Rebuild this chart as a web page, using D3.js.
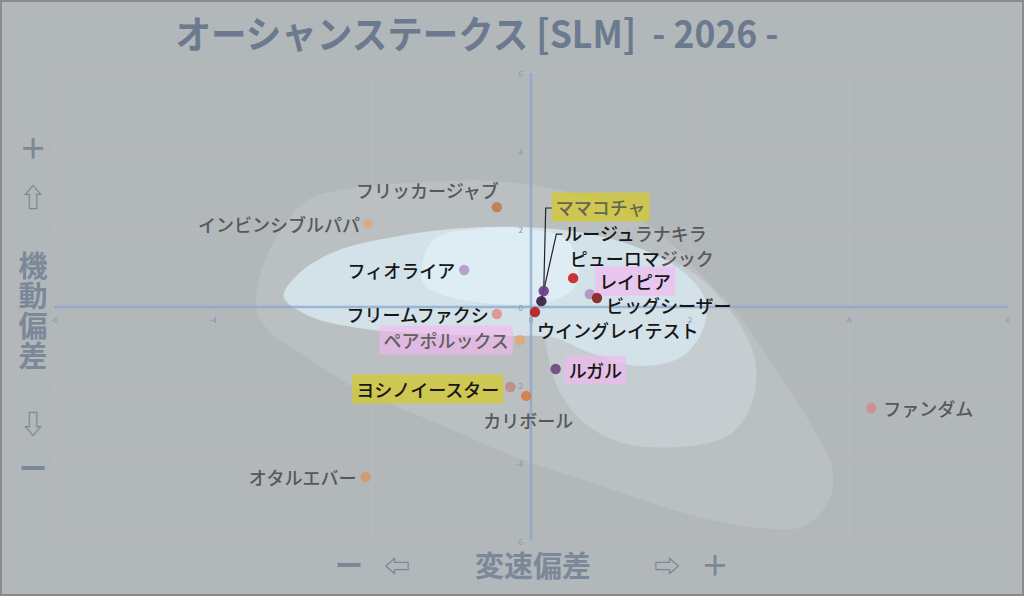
<!DOCTYPE html>
<html><head><meta charset="utf-8">
<script src="https://cdn.jsdelivr.net/npm/d3@7"></script>
<style>
html,body{margin:0;padding:0;background:#b2b7ba;}
svg{display:block;}
text{font-family:"Noto Sans CJK JP","Noto Sans",sans-serif;}
</style></head>
<body>
<svg id="chart" width="1024" height="596"></svg>
<script>
// ---------- data ----------
const titleText = "オーシャンステークス [SLM]  - 2026 -";
const names = ["フリッカージャブ","インビンシブルパパ","ママコチャ","ルージュラナキラ","フィオライア","ピューロマジック","レイピア","ビッグシーザー","ウイングレイテスト","フリームファクシ","ペアポルックス","ルガル","ヨシノイースター","カリボール","ファンダム","オタルエバー"];
const xVals = [-0.43,-2.05,0.16,0.13,-0.84,0.74,0.53,0.83,0.05,-0.43,-0.14,0.31,-0.26,-0.06,4.28,-2.08];
const yVals = [2.56,2.13,0.41,0.15,0.95,0.33,0.74,0.23,-0.13,-0.18,-0.85,-1.59,-2.05,-2.28,-2.59,-4.36];
const xTicks = [-6,-4,-2,0,2,4,6];
const yTicks = [-6,-4,-2,0,2,4,6];
const xDomain = [-6,6];
const yDomain = [-6,6];
// density contour outlines (data units)
const contourA = [[-3.45,-0.08],[-3.38,1.0],[-3.12,2.05],[-2.80,2.75],[-2.25,3.05],[-1.41,3.20],[-0.40,3.22],[0.35,3.0],[1.04,2.55],[1.64,1.85],[2.11,0.90],[2.58,-0.13],[3.14,-1.79],[3.56,-3.15],[3.79,-4.18],[3.75,-4.95],[3.43,-5.62],[2.74,-5.64],[1.80,-5.21],[0.81,-4.54],[-0.19,-3.85],[-1.16,-3.0],[-2.16,-2.13],[-2.92,-1.15],[-3.27,-0.67]];
const contourB = [[0.16,0.18],[0.54,1.15],[1.23,1.46],[1.99,0.95],[2.55,-0.21],[2.82,-1.36],[2.77,-2.51],[2.49,-3.28],[1.86,-3.59],[1.11,-3.46],[0.63,-2.90],[0.35,-2.13],[0.20,-1.10]];
const contourC = [[-3.11,0.26],[-2.94,0.82],[-2.48,1.41],[-1.66,1.82],[-0.78,2.03],[0.10,2.03],[0.86,1.82],[1.48,1.41],[1.96,0.82],[2.20,0.13],[2.15,-0.64],[1.89,-1.28],[1.36,-1.51],[0.75,-1.18],[0.29,-0.79],[-0.40,-0.74],[-1.28,-0.69],[-2.16,-0.54],[-2.79,-0.23]];
const contourD = [[-1.38,0.77],[-1.23,1.72],[-0.69,2.0],[0,2.0],[0.45,1.72],[0.60,1.08],[0.54,0.49],[0.20,0.13],[-0.69,0.13],[-1.26,0.44]];

// ---------- styles / layout ----------
const dotColors = ["#c07c52","#dba98a","#6f3a8c","#3a2040","#b59ac6","#b092c0","#cc2229","#8c2222","#b51f1f","#e0928c","#e3a774","#6b4b7c","#c08a8a","#da7d42","#cc8e8e","#d49a6e"];
const GRAY="#585858", DARK="#161616";
// dx, dy offsets from the dot in px, anchor, text colour, box, number of dark leading chars, leader line
const labelLayout = [
 {dx:2,dy:-17,a:"end",c:GRAY},
 {dx:-8,dy:0,a:"end",c:GRAY},
 {dx:12,dy:-84,a:"start",c:"#66664f",box:"y",leader:true},
 {dx:23,dy:-68,a:"start",c:GRAY,dark:4,leader:true},
 {dx:-9,dy:0,a:"end",c:DARK},
 {dx:-20,dy:-36,a:"start",c:GRAY,dark:5},
 {dx:26,dy:3,a:"start",c:DARK,box:"p"},
 {dx:9,dy:7,a:"start",c:DARK},
 {dx:2,dy:18,a:"start",c:DARK},
 {dx:-8,dy:0,a:"end",c:DARK},
 {dx:-11,dy:0,a:"end",c:"#606060",box:"p"},
 {dx:13,dy:1,a:"start",c:DARK,box:"p"},
 {dx:-11,dy:2,a:"end",c:DARK,box:"y"},
 {dx:2,dy:24,a:"middle",c:GRAY},
 {dx:12,dy:0,a:"start",c:GRAY},
 {dx:-9,dy:0,a:"end",c:GRAY}
];

const W=1024,H=596;
const svg=d3.select("#chart");
const x=d3.scaleLinear().domain(xDomain).range([54,1008]);
const y=d3.scaleLinear().domain(yDomain).range([541,73]);

svg.append("rect").attr("x",0).attr("y",0).attr("width",W).attr("height",H).attr("fill","#b2b7ba");

// grid
const grid=svg.append("g");
grid.selectAll("line.gx").data(xTicks).join("line").attr("x1",d=>x(d)).attr("x2",d=>x(d)).attr("y1",y(6)).attr("y2",y(-6)).attr("stroke","#b7bcbf").attr("stroke-width",1);
grid.selectAll("line.gy").data(yTicks).join("line").attr("y1",d=>y(d)).attr("y2",d=>y(d)).attr("x1",x(-6)).attr("x2",x(6)).attr("stroke","#b7bcbf").attr("stroke-width",1);

// contours
const line=d3.line().x(d=>x(d[0])).y(d=>y(d[1])).curve(d3.curveCatmullRomClosed.alpha(0.5));
const cg=svg.append("g");
[[contourA,"#babfc2"],[contourB,"#c6cdd1"],[contourC,"#d3e2e8"],[contourD,"#ddedf3"]].forEach(([c,col])=>{
  cg.append("path").attr("d",line(c)).attr("fill",col);
});

// axes lines
const ax=svg.append("g");
ax.append("line").attr("x1",x(-6)).attr("x2",x(6)).attr("y1",y(0)).attr("y2",y(0)).attr("stroke","#8aa4cf").attr("stroke-opacity",0.75).attr("stroke-width",2.5);
ax.append("line").attr("y1",y(6)).attr("y2",y(-6)).attr("x1",x(0)).attr("x2",x(0)).attr("stroke","#8aa4cf").attr("stroke-opacity",0.75).attr("stroke-width",2.5);

// tick labels
const tk=svg.append("g").attr("fill","#8796a8").style("font-size","8px").style("font-family","'DejaVu Sans',sans-serif");
tk.selectAll("text.tx").data(xTicks).join("text").attr("x",d=>x(d)).attr("y",y(0)+12).attr("text-anchor","middle").attr("dominant-baseline","central").text(d=>d);
tk.selectAll("text.ty").data(yTicks.filter(d=>d!==0)).join("text").attr("x",x(0)-8).attr("y",d=>y(d)).attr("text-anchor","end").attr("dominant-baseline","central").text(d=>d);
tk.append("text").attr("x",x(0)-8).attr("y",y(0)).attr("text-anchor","end").attr("dominant-baseline","central").text(0);

// data points & labels
const pts=names.map((n,i)=>({n,x:x(xVals[i]),y:y(yVals[i]),c:dotColors[i],L:labelLayout[i]}));
const boxG=svg.append("g"), txtG=svg.append("g"), ldrG=svg.append("g"), dotG=svg.append("g");
pts.forEach(p=>{
  const L=p.L, tx=p.x+L.dx, ty=p.y+L.dy;
  const t=txtG.append("text").attr("x",tx).attr("y",ty).attr("text-anchor",L.a).attr("dominant-baseline","central").style("font-size","18px").style("font-weight","500");
  if(L.dark){
    t.append("tspan").attr("fill",DARK).text(p.n.slice(0,L.dark));
    t.append("tspan").attr("fill",L.c).text(p.n.slice(L.dark));
  } else t.attr("fill",L.c).text(p.n);
  if(L.box){
    const bb=t.node().getBBox();
    boxG.append("rect").attr("x",bb.x-4).attr("y",ty-14.5).attr("width",bb.width+8).attr("height",29)
      .attr("fill",L.box==="y"?"#d6cc28":"#f5b4f0").attr("fill-opacity",L.box==="y"?0.72:0.62);
  }
  if(L.leader){
    const bb=t.node().getBBox();
    const lx=bb.x-(L.box?4:2);
    ldrG.append("path").attr("d",`M${lx},${ty+1}L${lx-6},${ty+1}L${p.x},${p.y}`).attr("fill","none").attr("stroke","#222").attr("stroke-width",1.2);
  }
});
dotG.selectAll("circle").data(pts).join("circle").attr("cx",d=>d.x).attr("cy",d=>d.y).attr("r",5.2).attr("fill",d=>d.c).attr("fill-opacity",0.92);

// title
svg.append("text").attr("x",477).attr("y",48).attr("text-anchor","middle").attr("fill","#6b7a8e")
  .style("font-size","38px").style("font-weight","bold").style("white-space","pre")
  .attr("textLength",603).attr("lengthAdjust","spacingAndGlyphs").text(titleText);

// axis titles
const AX="#7b8899";
const axT=svg.append("g").attr("fill",AX).style("font-weight","bold").attr("text-anchor","middle").attr("dominant-baseline","central");
const bottom=[["ー",349,28],["⇦",397,26],["変速偏差",533,29],["⇨",667,26],["＋",715,28]];
bottom.forEach(([s,cx,fs])=>axT.append("text").attr("x",cx).attr("y",564).style("font-size",fs+"px").text(s));
const left=[["＋",147,28],["⇧",195,26],["機",264,29],["動",294,29],["偏",324,29],["差",354,29],["⇩",422,26],["ー",467,28]];
left.forEach(([s,cy,fs])=>axT.append("text").attr("x",33).attr("y",cy).style("font-size",fs+"px").text(s));

// border
svg.append("rect").attr("x",1).attr("y",1).attr("width",W-2).attr("height",H-2).attr("fill","none").attr("stroke","#8a8a8a").attr("stroke-width",2);
</script>
</body></html>
